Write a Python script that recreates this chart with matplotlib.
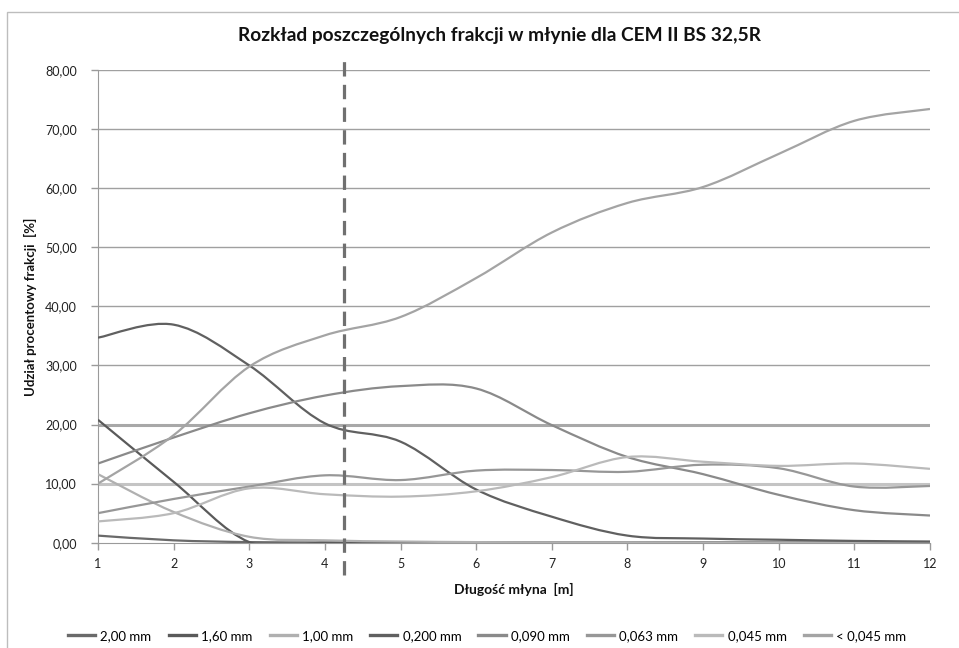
import numpy as np
import matplotlib
matplotlib.use("Agg")
import matplotlib.pyplot as plt
from matplotlib.path import Path
from matplotlib.patches import PathPatch, Rectangle
from matplotlib.lines import Line2D

plt.rcParams['font.family'] = ['Lato', 'DejaVu Sans']

# dlugosc mlyna [m]
dlugosc = [1, 2, 3, 4, 5, 6, 7, 8, 9, 10, 11, 12]

frakcje = ["2,00 mm", "1,60 mm", "1,00 mm", "0,200 mm",
           "0,090 mm", "0,063 mm", "0,045 mm", "< 0,045 mm"]

f_200 = [1.2, 0.4, 0.1, 0.05, 0.05, 0.03, 0.02, 0.02, 0.02, 0.02, 0.02, 0.02]
f_160 = [20.8, 10.3, 0.1, 0.0, 0.0, 0.0, 0.0, 0.0, 0.0, 0.0, 0.0, 0.0]
f_100 = [11.6, 5.2, 1.0, 0.4, 0.2, 0.1, 0.05, 0.05, 0.0, 0.0, 0.0, 0.0]
f_0200 = [34.7, 36.9, 30.0, 20.2, 17.1, 9.0, 4.4, 1.2, 0.7, 0.5, 0.3, 0.2]
f_0090 = [13.4, 17.8, 21.9, 24.9, 26.5, 26.1, 19.9, 14.5, 11.6, 8.1, 5.5, 4.6]
f_0063 = [5.0, 7.4, 9.5, 11.4, 10.6, 12.2, 12.3, 12.0, 13.2, 12.6, 9.5, 9.6]
f_0045 = [3.6, 5.0, 9.2, 8.2, 7.8, 8.7, 11.1, 14.5, 13.7, 13.0, 13.4, 12.5]
f_lt0045 = [10.0, 18.2, 29.8, 35.1, 38.2, 44.8, 52.5, 57.5, 60.2, 65.8, 71.4, 73.4]

serie = [f_200, f_160, f_100, f_0200, f_0090, f_0063, f_0045, f_lt0045]
kolory = ["#6a6a6a", "#5a5a5a", "#b0b0b0", "#606060",
          "#8a8a8a", "#979797", "#bababa", "#a4a4a4"]

granica = 4.25  # linia przerywana


def gladka(xs, ys):
    # wygladzona linia jak w Excelu (Bezier z punktow)
    p = np.column_stack([xs, ys]).astype(float)
    n = len(p)
    verts = [p[0]]
    codes = [Path.MOVETO]
    for i in range(n - 1):
        p0 = p[i - 1] if i > 0 else p[i]
        p3 = p[i + 2] if i + 2 < n else p[i + 1]
        verts += [p[i] + (p[i + 1] - p0) / 6, p[i + 1] - (p3 - p[i]) / 6, p[i + 1]]
        codes += [Path.CURVE4] * 3
    return Path(verts, codes)


fig = plt.figure(figsize=(9.59, 6.48), dpi=100)
ax = fig.add_axes([98 / 959, 1 - 542.7 / 648, 832 / 959, 472.7 / 648])

# ramka wykresu
fig.patches.append(Rectangle((7 / 959, -0.05), 1.2, 1.05 - 12 / 648, transform=fig.transFigure,
                             fill=False, edgecolor="#bdbdbd", lw=1.0))

yt = np.arange(0, 81, 10)
for v in yt[1:]:
    if v == 20:
        ax.axhline(v, color="#a8a8a8", lw=2.2, zorder=1)
    elif v == 10:
        ax.axhline(v, color="#c4c4c4", lw=2.2, zorder=1)
    else:
        ax.axhline(v, color="#a0a0a0", lw=1.0, zorder=1)

for ys, c, lab in zip(serie, kolory, frakcje):
    ax.add_patch(PathPatch(gladka(dlugosc, ys), facecolor="none", edgecolor=c, lw=1.6, zorder=3))

ax.plot([granica, granica], [-5.5, 81.5], color="#707070", lw=2.3, dashes=(4.5, 2.6),
        clip_on=False, zorder=4)

ax.set_xlim(1, 12)
ax.set_ylim(0, 80)
ax.set_xticks(dlugosc)
ax.set_yticks(yt)
ax.set_yticklabels([f"{v:.2f}".replace(".", ",") for v in yt])
for s in ["top", "right"]:
    ax.spines[s].set_visible(False)
for s in ["left", "bottom"]:
    ax.spines[s].set_color("#9a9a9a")
ax.tick_params(axis="both", colors="#9a9a9a", labelcolor="#222222", labelsize=9, length=5, width=1)
ax.tick_params(axis="y", pad=10)
ax.tick_params(axis="x", pad=6)

fig.text(499 / 959, 1 - 36 / 648, "Rozkład poszczególnych frakcji w młynie dla CEM II BS 32,5R",
         fontsize=13.8, fontweight="bold", color="#111111", ha="center", va="center")
ax.set_xlabel("Długość młyna  [m]", fontsize=10, fontweight="bold", labelpad=9, color="#111111")
ax.set_ylabel("Udział procentowy frakcji  [%]", fontsize=9.5, fontweight="bold", labelpad=6, color="#111111")

uchwyty = [Line2D([], [], color=c, lw=2.4) for c in kolory]
fig.legend(uchwyty, frakcje, loc="center", bbox_to_anchor=(0.508, 1 - 636 / 648), ncol=8,
           frameon=False, fontsize=9.5, handlelength=2.05, handletextpad=0.4, columnspacing=1.3)

plt.savefig("out.png", dpi=100)
